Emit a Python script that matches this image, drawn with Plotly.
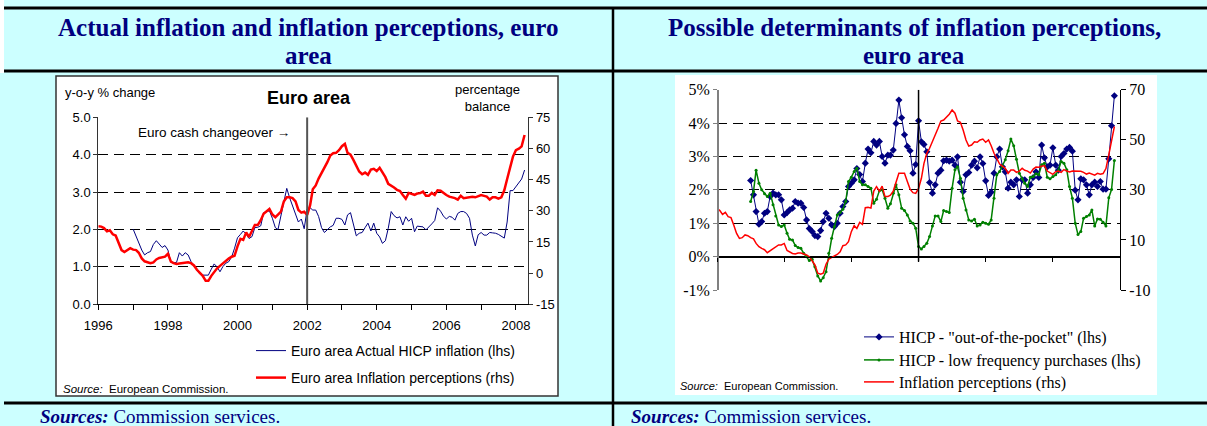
import pandas as pd
import plotly.graph_objects as go

W, H = 1207, 426


def px(x):
    return x / W


def py(y):
    return 1 - y / H


# ----------------------------- DATA ---------------------------------------
# Left chart: Euro area actual HICP inflation, y-o-y % (monthly, from Jan 1997)
hicp_start = "1997-01-01"
hicp_actual = [
    2.01, 1.80, 1.65, 1.45, 1.32, 1.38, 1.41, 1.60, 1.70, 1.60, 1.52, 1.57,
    1.45, 1.12, 1.11, 1.12, 1.38, 1.29, 1.38, 1.32, 1.14, 1.02, 0.92, 0.81,
    0.78, 0.78, 0.78, 0.94, 1.08, 1.00, 0.87, 1.01, 1.10, 1.14, 1.27, 1.50,
    1.78, 1.87, 1.96, 1.88, 1.76, 1.81, 2.05, 2.06, 2.10, 2.45, 2.47, 2.50,
    2.30, 2.05, 2.00, 2.40, 2.80, 3.10, 2.85, 2.62, 2.40, 2.20, 2.28, 2.02,
    2.55, 2.58, 2.52, 2.52, 2.35, 2.05, 1.92, 2.00, 2.07, 2.11, 2.30, 2.30,
    2.27, 2.12, 2.39, 2.45, 2.10, 1.83, 1.90, 1.92, 2.05, 2.17, 1.96, 2.17,
    1.90, 1.80, 1.63, 1.70, 2.03, 2.48, 2.37, 2.31, 2.34, 2.12, 2.34, 2.22,
    2.30, 1.94, 2.09, 2.08, 2.07, 1.99, 2.06, 2.15, 2.24, 2.58, 2.49, 2.36,
    2.28, 2.35, 2.33, 2.25, 2.43, 2.48, 2.48, 2.43, 2.30, 1.85, 1.56, 1.86,
    1.92, 1.85, 1.85, 1.92, 1.91, 1.90, 1.87, 1.81, 1.77, 2.20, 3.04, 3.04,
    3.15, 3.25, 3.35, 3.59,
]
# Left chart: Euro area inflation perceptions, percentage balance (monthly, from Jan 1996)
perc_start = "1996-01-01"
perceptions_ea = [
    22.6, 22.4, 21.7, 20.1, 20.6, 18.7, 18.1, 14.2, 11.1, 10.2, 11.3, 12.0,
    11.3, 11.1, 9.8, 7.1, 5.7, 5.2, 4.8, 5.2, 6.6, 7.3, 7.7, 7.9,
    9.3, 5.5, 4.8, 4.4, 4.6, 4.8, 5.0, 5.2, 4.8, 3.7, 1.6, -0.1,
    -1.3, -3.7, -3.7, -1.3, 0.5, 2.3, 3.5, 4.8, 5.7, 7.0, 7.9, 8.4,
    12.9, 16.5, 16.0, 19.6, 17.4, 20.1, 23.2, 23.2, 25.5, 28.6, 30.0, 30.9,
    28.2, 26.9, 28.2, 29.6, 34.5, 36.5, 36.5, 36.1, 34.5, 30.4, 29.1, 29.6,
    28.0, 32.7, 40.4, 42.2, 45.5, 48.0, 50.7, 53.4, 56.6, 57.7, 57.9, 59.2,
    61.1, 62.2, 57.9, 57.0, 54.5, 51.6, 48.9, 47.6, 48.4, 47.3, 49.8, 50.2,
    49.1, 50.7, 48.4, 46.2, 43.0, 42.2, 41.2, 40.1, 39.5, 37.6, 35.8, 38.6,
    38.1, 37.7, 38.3, 38.5, 39.2, 37.2, 37.2, 38.6, 37.6, 39.9, 39.7, 38.5,
    37.6, 36.8, 36.5, 36.1, 35.4, 37.2, 36.1, 36.3, 36.8, 36.8, 36.5, 37.2,
    37.6, 37.2, 36.8, 35.4, 36.5, 36.5, 35.9, 36.5, 39.9, 45.3, 50.2, 56.1,
    59.2, 59.9, 61.0, 66.5,
]
changeover = "2002-01-01"
left_tick_years = list(range(1996, 2009))
left_tick_labels = [str(y) if y % 2 == 0 else "" for y in left_tick_years]
left_lhs_ticks = [0, 1, 2, 3, 4, 5]
left_lhs_labels = ["0.0", "1.0", "2.0", "3.0", "4.0", "5.0"]
left_rhs_ticks = [-15, 0, 15, 30, 45, 60, 75]
left_rhs_labels = ["-15", "0", "15", "30", "45", "60", "75"]

# Right chart (monthly). Out-of-the-pocket & low-frequency HICP from Jan 1997 (lhs, %)
det_start = "1997-01-01"
hicp_pocket = [
    2.28, 1.85, 1.35, 0.97, 1.05, 1.30, 1.35, 1.80, 1.90, 1.85, 1.85, 1.70,
    1.25, 1.32, 1.40, 1.45, 1.65, 1.60, 1.60, 1.47, 1.10, 0.84, 0.75, 0.63,
    0.60, 0.78, 1.05, 1.30, 1.15, 0.95, 0.90, 1.00, 1.30, 1.50, 1.65, 2.10,
    2.20, 2.30, 2.64, 2.46, 2.25, 2.80, 3.22, 3.11, 3.45, 3.34, 3.45, 3.00,
    2.80, 3.04, 3.04, 3.19, 3.99, 4.69, 4.16, 3.65, 3.30, 3.17, 2.50, 2.76,
    4.07, 3.44, 3.36, 3.14, 2.22, 1.90, 2.15, 2.50, 2.59, 2.87, 2.89, 2.86,
    2.89, 2.74, 2.99, 2.23, 1.95, 2.45, 2.52, 2.74, 2.86, 2.66, 2.99, 2.79,
    2.27, 1.83, 1.93, 2.50, 2.99, 3.22, 2.69, 2.54, 2.05, 2.23, 2.15, 2.30,
    1.80, 2.30, 2.30, 1.90, 2.15, 2.37, 2.54, 2.37, 3.34, 2.96, 2.69, 2.74,
    3.26, 2.74, 2.59, 3.00, 3.09, 3.22, 3.27, 3.16, 1.99, 1.70, 2.33, 2.30,
    2.15, 1.85, 2.15, 2.23, 2.10, 2.25, 2.02, 2.02, 2.93, 3.92, 4.82,
]
hicp_lowfreq = [
    1.65, 1.95, 2.59, 2.20, 2.00, 1.88, 1.80, 1.90, 1.55, 1.22, 0.95, 0.90,
    0.95, 0.70, 0.52, 0.50, 0.33, 0.27, 0.25, 0.10, 0.00, -0.12, -0.08, -0.30,
    -0.58, -0.73, -0.63, -0.45, 0.10, 0.55, 0.90, 1.25, 1.32, 1.42, 1.65, 2.25,
    2.38, 2.55, 2.65, 2.25, 2.15, 2.15, 2.10, 2.05, 1.60, 1.72, 1.97, 2.00,
    1.75, 1.45, 1.58, 1.90, 2.15, 1.85, 1.45, 1.38, 1.25, 1.07, 1.00, 0.85,
    0.30, 0.23, 0.30, 0.40, 0.60, 0.92, 1.22, 1.22, 1.05, 1.38, 1.35, 1.32,
    2.05, 2.60, 2.69, 2.35, 1.75, 1.40, 1.10, 1.07, 1.12, 0.92, 0.95, 1.03,
    1.00, 0.97, 1.10, 1.75, 2.45, 2.55, 2.70, 2.90, 3.17, 3.52, 3.32, 2.92,
    2.50, 2.33, 2.20, 2.10, 2.38, 2.40, 2.48, 2.45, 2.75, 2.80, 2.38, 2.33,
    2.40, 2.45, 2.58, 2.85, 2.80, 2.60, 2.10, 1.75, 1.00, 0.66, 0.75, 1.15,
    1.20, 1.25, 1.40, 0.92, 1.13, 1.12, 1.03, 0.92, 1.76, 2.01, 2.88,
]
# Inflation perceptions (rhs, balance) from Jan 1996
perc_det_start = "1996-01-01"
perceptions_det = [
    22.6, 21.7, 20.2, 21.0, 19.3, 18.9, 16.0, 12.6, 10.6, 10.9, 12.0, 11.7,
    10.9, 10.4, 8.6, 7.3, 6.6, 6.1, 4.9, 5.7, 6.6, 7.3, 8.0, 8.0,
    8.6, 5.8, 5.3, 4.6, 4.4, 4.8, 4.8, 4.5, 4.0, 3.3, 1.7, 0.0,
    -3.3, -3.7, -3.3, 0.3, 2.3, 3.1, 3.6, 4.2, 5.3, 7.7, 8.0, 9.3,
    13.3, 15.7, 14.6, 17.0, 16.2, 22.9, 23.0, 22.7, 29.5, 31.3, 29.5, 31.5,
    27.3, 27.3, 27.9, 29.5, 33.3, 36.6, 36.6, 36.6, 33.3, 30.3, 28.9, 28.6,
    30.6, 34.6, 40.6, 44.6, 46.6, 49.0, 51.9, 54.6, 57.5, 57.9, 59.0, 60.2,
    61.9, 60.6, 57.5, 57.0, 53.9, 49.9, 47.5, 47.9, 49.2, 49.0, 49.9, 50.3,
    49.0, 49.9, 47.6, 44.6, 42.6, 40.3, 39.5, 38.6, 36.6, 37.9, 37.9, 37.0,
    37.5, 38.6, 37.8, 37.5, 36.7, 38.3, 39.1, 39.0, 39.4, 39.7, 37.5, 36.9,
    36.2, 37.3, 37.5, 37.0, 38.1, 37.5, 37.1, 37.5, 37.5, 37.5, 37.4, 37.0,
    36.3, 36.7, 36.2, 35.9, 36.6, 36.2, 36.5, 38.5, 44.0, 49.5, 55.3,
]
right_tick_years = [1996, 1998, 2000, 2002, 2004, 2006, 2008]
right_label_years = [1996, 1998, 2000, 2002, 2004, 2006]
right_lhs_ticks = [-1, 0, 1, 2, 3, 4, 5]
right_lhs_labels = ["-1%", "0%", "1%", "2%", "3%", "4%", "5%"]
right_rhs_ticks = [-10, 10, 30, 50, 70]
right_rhs_labels = ["-10", "10", "30", "50", "70"]

# ----------------------------- STYLE --------------------------------------
NAVY = "#000080"
CYAN = "#CCFFFF"
SANS = "Liberation Sans, Arial, sans-serif"
SERIF = "Liberation Serif, Times New Roman, serif"
DASH = "10px,6px"


def months(start, n):
    return pd.date_range(start, periods=n, freq="MS")


fig = go.Figure()

# Left chart traces
fig.add_trace(go.Scatter(
    x=months(hicp_start, len(hicp_actual)), y=hicp_actual, xaxis="x", yaxis="y",
    mode="lines", line=dict(color=NAVY, width=1),
    name="Euro area Actual HICP inflation (lhs)", legend="legend"))
fig.add_trace(go.Scatter(
    x=months(perc_start, len(perceptions_ea)), y=perceptions_ea, xaxis="x", yaxis="y2",
    mode="lines", line=dict(color="#FF0000", width=2.5),
    name="Euro area Inflation perceptions (rhs)", legend="legend2"))

# Right chart traces
fig.add_trace(go.Scatter(
    x=months(det_start, len(hicp_pocket)), y=hicp_pocket, xaxis="x2", yaxis="y3",
    mode="lines+markers", line=dict(color=NAVY, width=1),
    marker=dict(symbol="diamond", size=5.5, color=NAVY),
    name='HICP - "out-of-the-pocket" (lhs)', legend="legend3"))
fig.add_trace(go.Scatter(
    x=months(det_start, len(hicp_lowfreq)), y=hicp_lowfreq, xaxis="x2", yaxis="y3",
    mode="lines+markers", line=dict(color="#008000", width=1.5),
    marker=dict(symbol="circle", size=3, color="#008000"),
    name="HICP - low frequency purchases (lhs)", legend="legend4"))
fig.add_trace(go.Scatter(
    x=months(perc_det_start, len(perceptions_det)), y=perceptions_det, xaxis="x2", yaxis="y4",
    mode="lines", line=dict(color="#FF0000", width=1.5),
    name="Inflation perceptions (rhs)", legend="legend5"))


def legend_at(x, y, font):
    return dict(x=px(x), y=py(y), xanchor="left", yanchor="middle",
                bgcolor="rgba(0,0,0,0)", borderwidth=0, itemwidth=30,
                font=font, itemclick=False, itemdoubleclick=False)


sans13 = dict(family=SANS, size=13, color="black")
sans14 = dict(family=SANS, size=14, color="black")
serif16 = dict(family=SERIF, size=16, color="black")

fig.update_layout(
    template="none",
    width=W, height=H, margin=dict(l=0, r=0, t=0, b=0, pad=0, autoexpand=False),
    paper_bgcolor=CYAN, plot_bgcolor="rgba(0,0,0,0)",
    showlegend=True,
    legend=legend_at(251, 351, sans14),
    legend2=legend_at(251, 378, sans14),
    legend3=legend_at(859, 337, serif16),
    legend4=legend_at(859, 360, serif16),
    legend5=legend_at(859, 382, serif16),
    xaxis=dict(
        domain=[px(98.3), px(528.3)], range=["1996-01-01", "2008-05-10"], type="date",
        tickmode="array", tickvals=[f"{y}-01-01" for y in left_tick_years],
        ticktext=left_tick_labels, ticks="outside", ticklen=5, tickcolor="black",
        showline=True, linecolor="black", linewidth=1, showgrid=False, zeroline=False,
        tickfont=sans13, ticklabelstandoff=4, anchor="y", automargin=False),
    yaxis=dict(
        domain=[py(304.3), py(117.3)], range=[0, 5], tickmode="array",
        tickvals=left_lhs_ticks, ticktext=left_lhs_labels, showgrid=True, gridcolor="black",
        griddash=DASH, gridwidth=1, zeroline=False, showline=True, linecolor="#333333",
        ticks="outside", ticklen=4, tickcolor="#333333", tickfont=sans13, anchor="x",
        automargin=False),
    yaxis2=dict(
        overlaying="y", side="right", anchor="x", range=[-15, 75], tickmode="array",
        tickvals=left_rhs_ticks, ticktext=left_rhs_labels, showgrid=False, zeroline=False,
        showline=True, linecolor="#333333", ticks="outside", ticklen=4,
        tickcolor="#333333", tickfont=sans13, automargin=False),
    xaxis2=dict(
        domain=[px(717), px(1120)], range=["1996-01-01", "2008-01-01"], type="date",
        anchor="free", position=py(257.3), tickmode="array",
        tickvals=[f"{y}-01-01" for y in right_tick_years], showticklabels=False,
        ticks="outside", ticklen=4, tickcolor="black", showline=True, linecolor="black",
        linewidth=1, showgrid=False, zeroline=False, automargin=False),
    xaxis3=dict(
        overlaying="x2", range=["1996-01-01", "2008-01-01"], type="date",
        anchor="free", position=py(290), tickmode="array",
        tickvals=[f"{y}-01-01" for y in right_label_years],
        ticktext=[str(y) for y in right_label_years], ticks="outside", ticklen=8,
        tickcolor="rgba(0,0,0,0)", showline=False, showgrid=False, zeroline=False,
        tickfont=serif16, automargin=False),
    yaxis3=dict(
        domain=[py(290), py(89.7)], range=[-1, 5], tickmode="array",
        tickvals=right_lhs_ticks, ticktext=right_lhs_labels, showgrid=True,
        gridcolor="black", griddash=DASH, gridwidth=1, zeroline=True,
        zerolinecolor="black", zerolinewidth=1, showline=True, linecolor="#808080",
        linewidth=1.5, ticks="outside", ticklen=4, tickcolor="#808080",
        tickfont=serif16, anchor="free", position=px(717), automargin=False),
    yaxis4=dict(
        overlaying="y3", side="right", anchor="free", position=px(1120),
        range=[-10, 70], tickmode="array", tickvals=right_rhs_ticks,
        ticktext=right_rhs_labels, showgrid=False, zeroline=False, showline=True,
        linecolor="black", linewidth=1, ticks="outside", ticklen=5, tickcolor="black",
        tickfont=serif16, automargin=False),
)

shapes = [
    # white strip at the left edge of the title row
    dict(type="rect", xref="paper", yref="paper", x0=0, x1=px(4), y0=py(73), y1=1,
         fillcolor="white", line=dict(width=0), layer="below"),
    # white chart boxes
    dict(type="rect", xref="paper", yref="paper", x0=px(56), x1=px(558), y0=py(396), y1=py(76),
         fillcolor="white", line=dict(color="#333333", width=1.5), layer="below"),
    dict(type="rect", xref="paper", yref="paper", x0=px(675), x1=px(1157), y0=py(395), y1=py(75),
         fillcolor="white", line=dict(width=0), layer="below"),
    # table rules
    dict(type="line", xref="paper", yref="paper", x0=px(4), x1=1, y0=py(8), y1=py(8),
         line=dict(color="black", width=3)),
    dict(type="line", xref="paper", yref="paper", x0=px(4), x1=1, y0=py(71), y1=py(71),
         line=dict(color="black", width=3)),
    dict(type="line", xref="paper", yref="paper", x0=px(4), x1=1, y0=py(403), y1=py(403),
         line=dict(color="black", width=3)),
    dict(type="line", xref="paper", yref="paper", x0=px(613), x1=px(613), y0=py(8), y1=0,
         line=dict(color="black", width=2.5)),
    # euro cash changeover lines
    dict(type="line", xref="x", yref="y", x0=changeover, x1=changeover, y0=0, y1=5,
         line=dict(color="#555555", width=2)),
    dict(type="line", xref="x2", yref="y3", x0=changeover, x1=changeover, y0=-0.15, y1=5,
         line=dict(color="black", width=1.5)),
]
fig.update_layout(shapes=shapes)

title_font = dict(family=SERIF, size=25, color=NAVY)
sources_font = dict(family=SERIF, size=19, color=NAVY)
ann = [
    dict(text="<b>Actual inflation and inflation perceptions, euro</b>", x=px(309), y=py(27),
         font=title_font, xanchor="center", yanchor="middle"),
    dict(text="<b>area</b>", x=px(309), y=py(55.5),
         font=title_font, xanchor="center", yanchor="middle"),
    dict(text="<b>Possible determinants of inflation perceptions,</b>", x=px(914), y=py(27),
         font=title_font, xanchor="center", yanchor="middle"),
    dict(text="<b>euro area</b>", x=px(914), y=py(55.5),
         font=title_font, xanchor="center", yanchor="middle"),
    dict(text="<b><i>Sources:</i></b> Commission services.", x=px(38), y=py(416),
         font=sources_font, xanchor="left", yanchor="middle"),
    dict(text="<b><i>Sources:</i></b> Commission services.", x=px(629), y=py(416),
         font=sources_font, xanchor="left", yanchor="middle"),
    dict(text="y-o-y % change", x=px(63), y=py(92), font=dict(family=SANS, size=13, color="black"),
         xanchor="left", yanchor="middle"),
    dict(text="<b>Euro area</b>", x=px(309), y=py(98), font=dict(family=SANS, size=18, color="black"),
         xanchor="center", yanchor="middle"),
    dict(text="percentage<br>balance", x=px(487), y=py(98), font=dict(family=SANS, size=13, color="black"),
         xanchor="center", yanchor="middle"),
    dict(text="Euro cash changeover \u2192", x=px(292), y=py(132),
         font=dict(family=SANS, size=13.5, color="black"), xanchor="right", yanchor="middle"),
    dict(text="<i>Source:</i>  European Commission.", x=px(61), y=py(389),
         font=dict(family=SANS, size=11.5, color="black"), xanchor="left", yanchor="middle"),
    dict(text="<i>Source:</i>  European Commission.", x=px(678), y=py(386),
         font=dict(family=SANS, size=11, color="black"), xanchor="left", yanchor="middle"),
]
for a in ann:
    a.update(xref="paper", yref="paper", showarrow=False)
fig.update_layout(annotations=ann)

fig.write_html(
    "out.html",
    config={"displayModeBar": False, "staticPlot": True},
    post_script="document.body.style.margin='0';document.body.style.overflow='hidden';",
)
